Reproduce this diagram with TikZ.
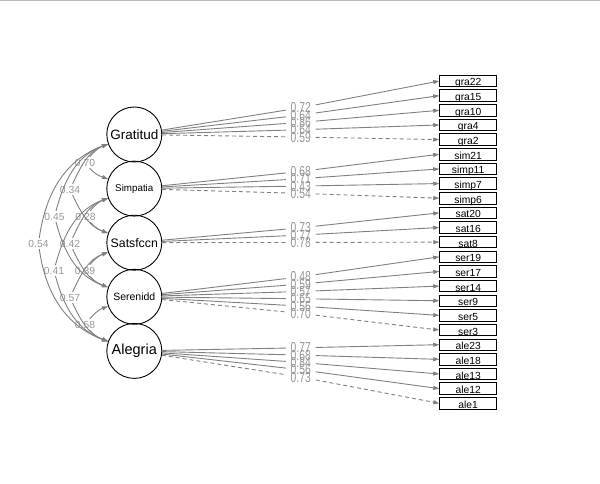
\documentclass[tikz,border=0pt]{standalone}
\usepackage{fontspec}
\setmainfont{Liberation Sans}
\usepackage{graphicx}
\usepackage{tikz}
\usetikzlibrary{arrows.meta}
\usetikzlibrary{calc}
\definecolor{edgegray}{RGB}{128,128,128}
\definecolor{labgray}{RGB}{150,150,150}
\newcommand{\tallnum}[1]{\scalebox{1}[1.4]{#1}}
\newcommand{\lowr}[1]{\raisebox{-5pt}[0pt][0pt]{#1}}

\begin{document}
\begin{tikzpicture}[x=1pt, y=1pt, line width=0.9pt,
        lat/.style={circle, draw, minimum size=55pt, inner sep=0pt},
        obs/.style={draw, minimum width=57pt, minimum height=11.5pt, inner sep=0pt, font=\fontsize{10.3}{10.3}\selectfont},
        load/.style={edgegray, -{Triangle[length=6pt, width=4pt]}},
        fixed/.style={load, dash pattern=on 4pt off 3pt},
        cov/.style={edgegray, -{Triangle[length=6pt, width=4pt]}},
        lbl/.style={text=labgray, inner xsep=4.5pt, inner ysep=0pt, font=\fontsize{10.3}{10.3}\selectfont},
        clbl/.style={text=labgray, inner sep=1.5pt, font=\fontsize{10.3}{10.3}\selectfont}]
        \useasboundingbox (0,0) rectangle (600,-484);
        \draw[gray!55] (0,-0.5) -- (600,-0.5);
        %%% latent variables
        \node[lat, font=\fontsize{13.5}{13.5}\selectfont] (Grat) at (134.3,-134.5) {Gratitud};
        \node[lat, font=\fontsize{9.8}{9.8}\selectfont] (Simp) at (134.3,-188.6) {Simpatia};
        \node[lat, font=\fontsize{12.3}{12.3}\selectfont] (Sats) at (134.3,-242.7) {Satsfccn};
        \node[lat, font=\fontsize{10.5}{10.5}\selectfont] (Sere) at (134.3,-296.8) {Serenidd};
        \node[lat, font=\fontsize{14.5}{14.5}\selectfont] (Aleg) at (134.3,-350.9) {Alegria};
        %%% indicators
        \node[obs] (gra22) at (468.2,-81) {\lowr{gra22}};
        \node[obs] (gra15) at (468.2,-95.65) {\lowr{gra15}};
        \node[obs] (gra10) at (468.2,-110.3) {\lowr{gra10}};
        \node[obs] (gra4) at (468.2,-124.95) {\lowr{gra4}};
        \node[obs] (gra2) at (468.2,-139.6) {\lowr{gra2}};
        \node[obs] (sim21) at (468.2,-154.25) {\lowr{sim21}};
        \node[obs] (simp11) at (468.2,-168.9) {\lowr{simp11}};
        \node[obs] (simp7) at (468.2,-183.55) {\lowr{simp7}};
        \node[obs] (simp6) at (468.2,-198.2) {\lowr{simp6}};
        \node[obs] (sat20) at (468.2,-212.85) {\lowr{sat20}};
        \node[obs] (sat16) at (468.2,-227.5) {\lowr{sat16}};
        \node[obs] (sat8) at (468.2,-242.15) {\lowr{sat8}};
        \node[obs] (ser19) at (468.2,-256.8) {\lowr{ser19}};
        \node[obs] (ser17) at (468.2,-271.45) {\lowr{ser17}};
        \node[obs] (ser14) at (468.2,-286.1) {\lowr{ser14}};
        \node[obs] (ser9) at (468.2,-300.75) {\lowr{ser9}};
        \node[obs] (ser5) at (468.2,-315.4) {\lowr{ser5}};
        \node[obs] (ser3) at (468.2,-330.05) {\lowr{ser3}};
        \node[obs] (ale23) at (468.2,-344.7) {\lowr{ale23}};
        \node[obs] (ale18) at (468.2,-359.35) {\lowr{ale18}};
        \node[obs] (ale13) at (468.2,-374) {\lowr{ale13}};
        \node[obs] (ale12) at (468.2,-388.65) {\lowr{ale12}};
        \node[obs] (ale1) at (468.2,-403.3) {\lowr{ale1}};
        %%% loadings
        \node[lbl] (Lgra22) at ($(Grat.east)!.5!(gra22.west)$) {\tallnum{0.72}};
        \node[lbl] (Lgra15) at ($(Grat.east)!.5!(gra15.west)$) {\tallnum{0.64}};
        \node[lbl] (Lgra10) at ($(Grat.east)!.5!(gra10.west)$) {\tallnum{0.86}};
        \node[lbl] (Lgra4) at ($(Grat.east)!.5!(gra4.west)$) {\tallnum{0.64}};
        \node[lbl] (Lgra2) at ($(Grat.east)!.5!(gra2.west)$) {\tallnum{0.59}};
        \draw[load] (Grat) -- (Lgra22) -- (gra22.west);
        \draw[load] (Grat) -- (Lgra15) -- (gra15.west);
        \draw[load] (Grat) -- (Lgra10) -- (gra10.west);
        \draw[load] (Grat) -- (Lgra4) -- (gra4.west);
        \draw[fixed] (Grat) -- (Lgra2) -- (gra2.west);
        \node[lbl] (Lsim21) at ($(Simp.east)!.5!(sim21.west)$) {\tallnum{0.68}};
        \node[lbl] (Lsimp11) at ($(Simp.east)!.5!(simp11.west)$) {\tallnum{0.71}};
        \node[lbl] (Lsimp7) at ($(Simp.east)!.5!(simp7.west)$) {\tallnum{0.43}};
        \node[lbl] (Lsimp6) at ($(Simp.east)!.5!(simp6.west)$) {\tallnum{0.54}};
        \draw[load] (Simp) -- (Lsim21) -- (sim21.west);
        \draw[load] (Simp) -- (Lsimp11) -- (simp11.west);
        \draw[load] (Simp) -- (Lsimp7) -- (simp7.west);
        \draw[fixed] (Simp) -- (Lsimp6) -- (simp6.west);
        \node[lbl] (Lsat20) at ($(Sats.east)!.5!(sat20.west)$) {\tallnum{0.73}};
        \node[lbl] (Lsat16) at ($(Sats.east)!.5!(sat16.west)$) {\tallnum{0.77}};
        \node[lbl] (Lsat8) at ($(Sats.east)!.5!(sat8.west)$) {\tallnum{0.78}};
        \draw[load] (Sats) -- (Lsat20) -- (sat20.west);
        \draw[load] (Sats) -- (Lsat16) -- (sat16.west);
        \draw[fixed] (Sats) -- (Lsat8) -- (sat8.west);
        \node[lbl] (Lser19) at ($(Sere.east)!.5!(ser19.west)$) {\tallnum{0.48}};
        \node[lbl] (Lser17) at ($(Sere.east)!.5!(ser17.west)$) {\tallnum{0.59}};
        \node[lbl] (Lser14) at ($(Sere.east)!.5!(ser14.west)$) {\tallnum{0.57}};
        \node[lbl] (Lser9) at ($(Sere.east)!.5!(ser9.west)$) {\tallnum{0.65}};
        \node[lbl] (Lser5) at ($(Sere.east)!.5!(ser5.west)$) {\tallnum{0.56}};
        \node[lbl] (Lser3) at ($(Sere.east)!.5!(ser3.west)$) {\tallnum{0.70}};
        \draw[load] (Sere) -- (Lser19) -- (ser19.west);
        \draw[load] (Sere) -- (Lser17) -- (ser17.west);
        \draw[load] (Sere) -- (Lser14) -- (ser14.west);
        \draw[load] (Sere) -- (Lser9) -- (ser9.west);
        \draw[load] (Sere) -- (Lser5) -- (ser5.west);
        \draw[fixed] (Sere) -- (Lser3) -- (ser3.west);
        \node[lbl] (Lale23) at ($(Aleg.east)!.5!(ale23.west)$) {\tallnum{0.77}};
        \node[lbl] (Lale18) at ($(Aleg.east)!.5!(ale18.west)$) {\tallnum{0.68}};
        \node[lbl] (Lale13) at ($(Aleg.east)!.5!(ale13.west)$) {\tallnum{0.84}};
        \node[lbl] (Lale12) at ($(Aleg.east)!.5!(ale12.west)$) {\tallnum{0.56}};
        \node[lbl] (Lale1) at ($(Aleg.east)!.5!(ale1.west)$) {\tallnum{0.73}};
        \draw[load] (Aleg) -- (Lale23) -- (ale23.west);
        \draw[load] (Aleg) -- (Lale18) -- (ale18.west);
        \draw[load] (Aleg) -- (Lale13) -- (ale13.west);
        \draw[load] (Aleg) -- (Lale12) -- (ale12.west);
        \draw[fixed] (Aleg) -- (Lale1) -- (ale1.west);
        %%% covariances
        \node[clbl] (c70) at (85,-162.5) {0.70};
        \node[clbl] (c34) at (70,-189.5) {0.34};
        \node[clbl] (c45) at (54.5,-216.5) {0.45};
        \node[clbl] (c54) at (38.5,-243.5) {0.54};
        \node[clbl] (c28) at (85.5,-216.5) {0.28};
        \node[clbl] (c42) at (70,-243.5) {0.42};
        \node[clbl] (c41) at (54,-270.5) {0.41};
        \node[clbl] (c39) at (85,-270.5) {0.39};
        \node[clbl] (c57) at (70,-297.5) {0.57};
        \node[clbl] (c58) at (85,-324.5) {0.58};
        \draw[cov] (c70) to[out=50, in=200] (Grat);
        \draw[cov] (c70) to[out=-50, in=160] (Simp);
        \draw[cov] (c34) to[out=65, in=200] (Grat);
        \draw[cov] (c34) to[out=-65, in=160] (Sats);
        \draw[cov] (c45) to[out=75, in=200] (Grat);
        \draw[cov] (c45) to[out=-75, in=160] (Sere);
        \draw[cov] (c54) to[out=82, in=200] (Grat);
        \draw[cov] (c54) to[out=-82, in=160] (Aleg);
        \draw[cov] (c28) to[out=50, in=200] (Simp);
        \draw[cov] (c28) to[out=-50, in=160] (Sats);
        \draw[cov] (c42) to[out=65, in=200] (Simp);
        \draw[cov] (c42) to[out=-65, in=160] (Sere);
        \draw[cov] (c41) to[out=75, in=200] (Simp);
        \draw[cov] (c41) to[out=-75, in=160] (Aleg);
        \draw[cov] (c39) to[out=50, in=200] (Sats);
        \draw[cov] (c39) to[out=-50, in=160] (Sere);
        \draw[cov] (c57) to[out=65, in=200] (Sats);
        \draw[cov] (c57) to[out=-65, in=160] (Aleg);
        \draw[cov] (c58) to[out=50, in=200] (Sere);
        \draw[cov] (c58) to[out=-50, in=160] (Aleg);
\end{tikzpicture}
\end{document}
